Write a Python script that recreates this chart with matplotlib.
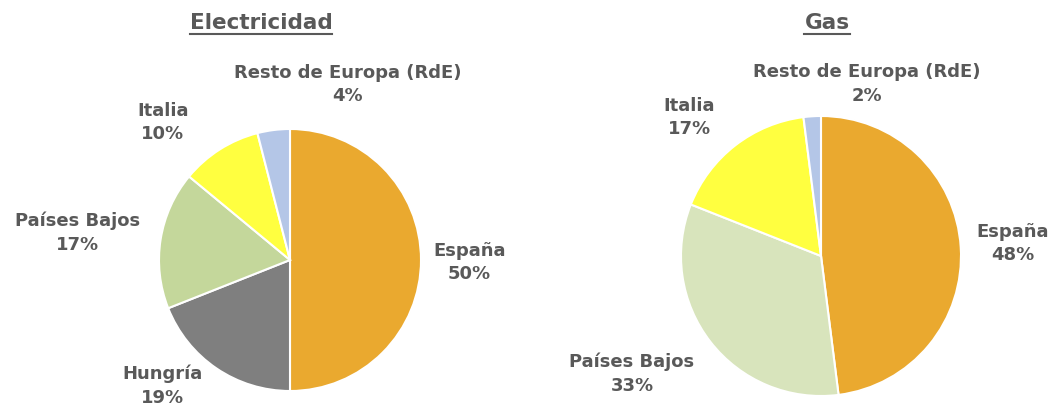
import matplotlib
matplotlib.use("Agg")
import matplotlib.pyplot as plt
from matplotlib.lines import Line2D

# data
elec_labels = ["España", "Hungría", "Países Bajos", "Italia", "Resto de Europa (RdE)"]
elec_values = [50, 19, 17, 10, 4]
gas_labels = ["España", "Países Bajos", "Italia", "Resto de Europa (RdE)"]
gas_values = [48, 33, 17, 2]

# styles
elec_colors = ["#EAA92F", "#7F7F7F", "#C4D79B", "#FFFF40", "#B4C6E7"]
gas_colors = ["#EAA92F", "#D8E4BC", "#FFFF40", "#B4C6E7"]
text_color = "#595959"
font = "DejaVu Sans"

# label positions in units of pie radius (layout)
elec_pos = [(1.37, -0.02), (-0.97, -0.96), (-1.62, 0.21), (-0.97, 1.05), (0.44, 1.34)]
gas_pos = [(1.37, 0.09), (-1.35, -0.84), (-0.94, 0.99), (0.33, 1.23)]

W, H = 1062, 407
fig = plt.figure(figsize=(W / 100, H / 100), dpi=100)


def pie_axes(cx, cy, r):
    return fig.add_axes([(cx - r) / W, (H - cy - r) / H, 2 * r / W, 2 * r / H])


def draw(ax, values, labels, colors, pos):
    ax.pie(values, colors=colors, startangle=90, counterclock=False,
           wedgeprops=dict(edgecolor="white", linewidth=1.5))
    ax.set_xlim(-1, 1)
    ax.set_ylim(-1, 1)
    ax.axis("off")
    for lab, v, (x, y) in zip(labels, values, pos):
        ax.text(x, y, f"{lab}\n{v}%", ha="center", va="center", color=text_color,
                fontsize=13, fontweight="bold", family=font,
                linespacing=1.4, clip_on=False)


ax1 = pie_axes(290, 260, 131)
draw(ax1, elec_values, elec_labels, elec_colors, elec_pos)
ax2 = pie_axes(821, 256, 140)
draw(ax2, gas_values, gas_labels, gas_colors, gas_pos)

titles = []
for t, x in [("Electricidad", 261), ("Gas", 827)]:
    titles.append(fig.text(x / W, 1 - 23 / H, t, ha="center", va="center",
                           color=text_color, fontsize=15.5, fontweight="bold", family=font))

fig.canvas.draw()
r = fig.canvas.get_renderer()
for t in titles:
    bb = t.get_window_extent(r)
    y = 1 - 34 / H
    fig.add_artist(Line2D([bb.x0 / W, bb.x1 / W], [y, y], color=text_color, lw=1.5))

fig.savefig("out.png", dpi=100, facecolor="white")
